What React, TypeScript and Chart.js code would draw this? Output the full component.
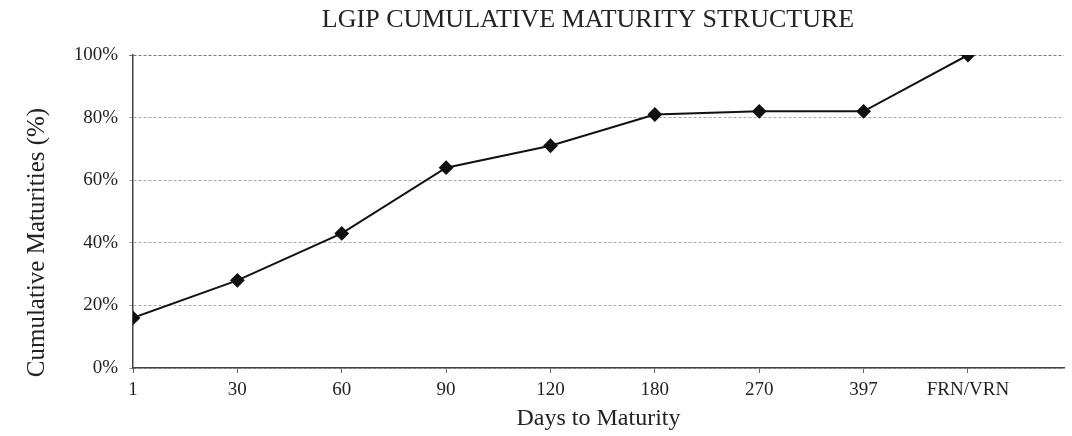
import React, { useEffect, useRef } from "react";
import { Chart, registerables } from "chart.js";

Chart.register(...registerables);

const categories = ["1", "30", "60", "90", "120", "180", "270", "397", "FRN/VRN"];
const cumulativeValues = [16, 28, 43, 64, 71, 81, 82, 82, 100];
const yTicks = [0, 20, 40, 60, 80, 100];

const titleText = "LGIP CUMULATIVE MATURITY STRUCTURE";
const yTitleText = "Cumulative Maturities (%)";
const xTitleText = "Days to Maturity";

const FONT = "'Liberation Serif', 'Times New Roman', serif";
const TEXT = "#222";

const textPlugin = {
  id: "customText",
  afterDraw(chart: any) {
    const { ctx, chartArea } = chart;
    ctx.save();
    ctx.fillStyle = TEXT;
    ctx.textAlign = "center";
    ctx.textBaseline = "middle";
    ctx.font = `26px ${FONT}`;
    ctx.fillText(titleText, 588, 20);
    ctx.translate(37, (chartArea.top + chartArea.bottom) / 2 + 31);
    ctx.rotate(-Math.PI / 2);
    ctx.font = `25px ${FONT}`;
    ctx.fillText(yTitleText, 0, 0);
    ctx.restore();
  },
};

export default function App() {
  const ref = useRef<HTMLCanvasElement>(null);
  useEffect(() => {
    if (!ref.current) return;
    const chart = new Chart(ref.current, {
      type: "line",
      data: {
        datasets: [
          {
            data: cumulativeValues.map((v, i) => ({ x: i, y: v })),
            borderColor: "#111",
            backgroundColor: "#111",
            borderWidth: 2,
            pointStyle: "rectRot",
            pointRadius: 6,
            pointBackgroundColor: "#111",
            pointBorderColor: "#111",
            tension: 0,
          },
        ],
      },
      options: {
        responsive: false,
        animation: false,
        devicePixelRatio: 1,
        layout: { padding: { top: 55, right: -3, left: 0, bottom: 0 } },
        plugins: { legend: { display: false }, title: { display: false }, tooltip: { enabled: false } },
        scales: {
          x: {
            type: "linear",
            min: 0,
            max: 8.92,
            afterBuildTicks(scale: any) {
              scale.ticks = categories.map((_, i) => ({ value: i }));
            },
            afterFit(scale: any) {
              scale.height = 68;
              scale.paddingRight = 0;
              scale.paddingLeft = 0;
            },
            ticks: {
              autoSkip: false,
              maxRotation: 0,
              padding: 6,
              color: TEXT,
              font: { family: FONT, size: 19 },
              callback: (v: any) => categories[v] ?? "",
            },
            grid: { drawOnChartArea: false, tickLength: 5, color: "#666" },
            border: { color: "#444", width: 1.5 },
            title: {
              display: true,
              text: xTitleText,
              color: TEXT,
              font: { family: FONT, size: 24 },
              padding: { top: 0, bottom: 3 },
            },
          },
          y: {
            min: 0,
            max: 100,
            afterBuildTicks(scale: any) {
              scale.ticks = yTicks.map((v) => ({ value: v }));
            },
            afterFit(scale: any) {
              scale.width = 133;
            },
            ticks: {
              padding: 11,
              color: TEXT,
              font: { family: FONT, size: 19 },
              callback: (v: any) => `${v}%`,
            },
            grid: {
              tickLength: 4,
              color: (c: any) => (c.tick && c.tick.value === 100 ? "#777" : "#aaa"),
              lineWidth: 1,
            },
            border: { color: "#444", width: 1.5, dash: [3, 2] },
          },
        },
      },
      plugins: [textPlugin],
    } as any);
    return () => chart.destroy();
  }, []);
  return (
    <div style={{ position: "absolute", left: 0, top: 0, width: 1072, height: 436 }}>
      <canvas ref={ref} width={1072} height={436} />
    </div>
  );
}
